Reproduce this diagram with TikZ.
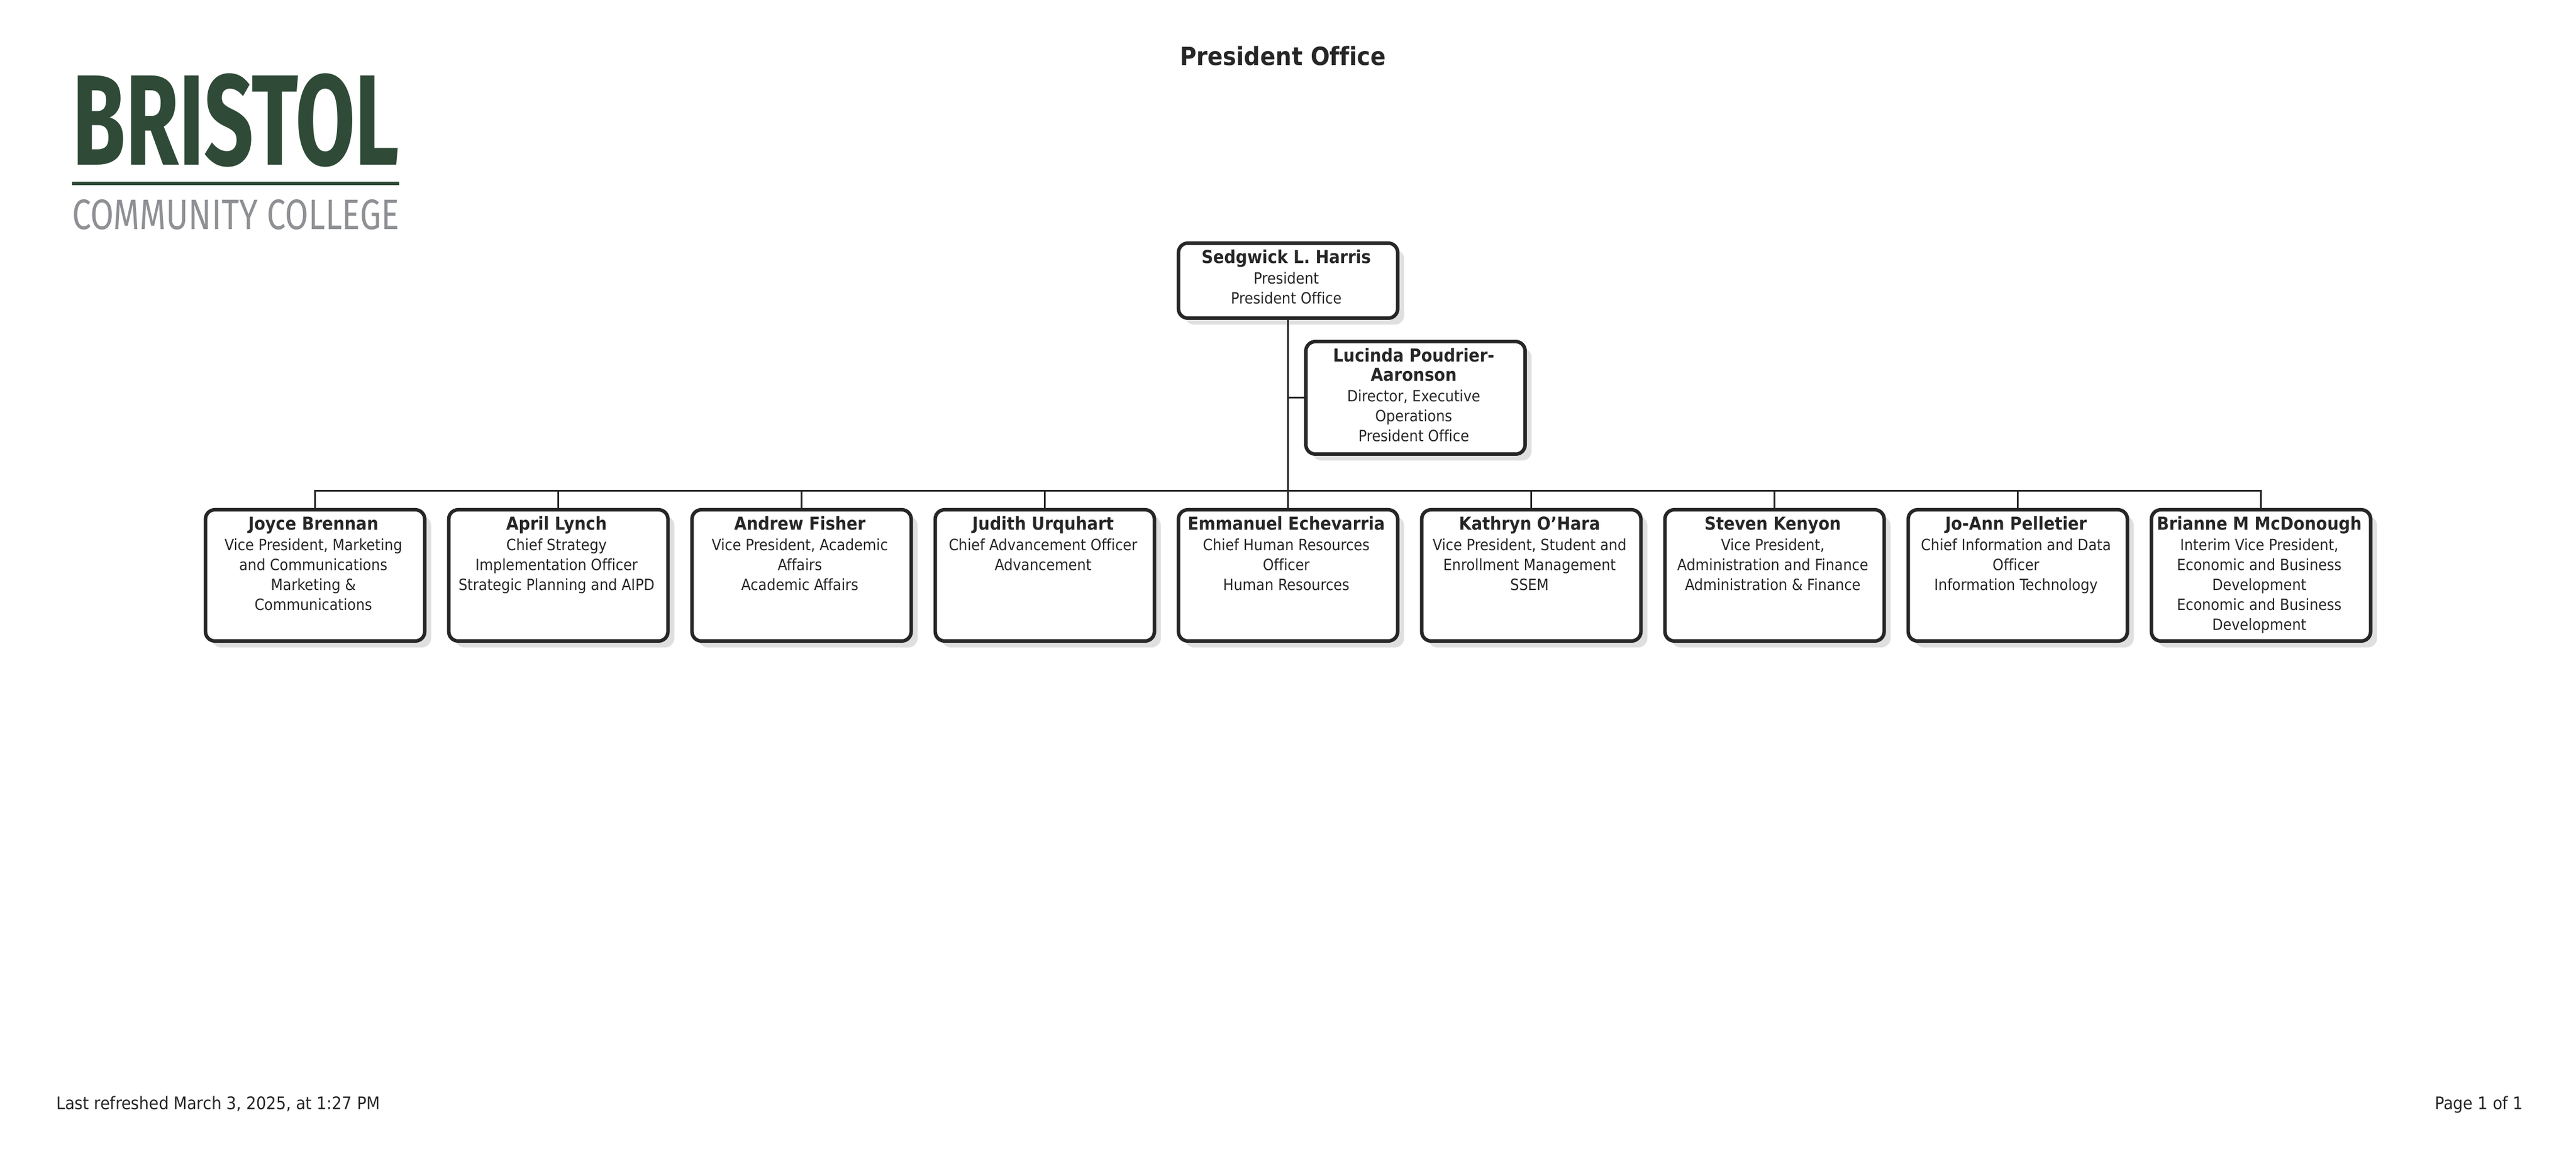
\documentclass[tikz,border=0pt]{standalone}
\usepackage{fontspec}
\usepackage{graphicx}
\setmainfont[Ligatures=NoCommon]{DejaVu Sans Condensed}
\newfontfamily\logofont{Fira Sans}
\usetikzlibrary{shadows}

\definecolor{bristolgreen}{HTML}{2F4A37}
\definecolor{bristolgrey}{HTML}{8E9094}
\definecolor{inkdark}{HTML}{262626}
\definecolor{shadowgrey}{HTML}{DFDFDF}

\newcommand{\cardtext}[3]{\kern-0.03cm\parbox[c][#1][t]{3.7cm}{\centering\fontsize{7.55pt}{0.34cm}\selectfont
{\bfseries\fontsize{8.7pt}{0.33cm}\selectfont\rule{0pt}{0.345cm}#2\par}\vspace{0.01cm}#3}\kern0.03cm}

\tikzset{
  card/.style={draw=inkdark, line width=0.06cm, rounded corners=0.16cm, fill=white, inner sep=0pt,
    minimum width=3.74cm, text=inkdark,
    general shadow={fill=shadowgrey, shadow xshift=0.11cm, shadow yshift=-0.11cm}},
  link/.style={draw=inkdark, line width=0.03cm},
  plain/.style={text=inkdark, inner sep=0pt}
}

\begin{document}
\begin{tikzpicture}
\useasboundingbox (0,0) rectangle (43.95,19.78);
%logo
\node[anchor=base west, inner sep=0pt, text=bristolgreen] (bristol) at (1.225,16.96)
  {\resizebox{5.58cm}{1.56cm}{\logofont\bfseries BRISTOL}};
\fill[bristolgreen] (1.225,16.62) rectangle (6.805,16.68);
\node[anchor=base west, inner sep=0pt, text=bristolgrey] (college) at (1.225,15.86)
  {\resizebox{5.58cm}{0.51cm}{\logofont COMMUNITY COLLEGE}};
%title and footer
\node[plain, font=\fontsize{12.2pt}{14pt}\selectfont\bfseries] (title) at (21.89,18.82) {President Office};
\node[plain, anchor=base west, font=\fontsize{8.45pt}{10pt}\selectfont] (refreshed) at (0.96,0.84) {Last refreshed March 3, 2025, at 1:27 PM};
\node[plain, anchor=base east, font=\fontsize{8.45pt}{10pt}\selectfont] (pagenum) at (43.05,0.84) {Page 1 of 1};
%boxes
\node[card] (harris) at (21.976,14.99) {\cardtext{1.28cm}{Sedgwick L. Harris}{President\\President Office}};
\node[card] (lucinda) at (24.15,12.99) {\cardtext{1.92cm}{Lucinda Poudrier-\\Aaronson}{Director, Executive\\Operations\\President Office}};
\node[card] (joyce) at (5.376,9.96) {\cardtext{2.24cm}{Joyce Brennan}{Vice President, Marketing\\and Communications\\Marketing \&\\Communications}};
\node[card] (april) at (9.526,9.96) {\cardtext{2.24cm}{April Lynch}{Chief Strategy\\Implementation Officer\\Strategic Planning and AIPD}};
\node[card] (andrew) at (13.676,9.96) {\cardtext{2.24cm}{Andrew Fisher}{Vice President, Academic\\Affairs\\Academic Affairs}};
\node[card] (judith) at (17.826,9.96) {\cardtext{2.24cm}{Judith Urquhart}{Chief Advancement Officer\\Advancement}};
\node[card] (emmanuel) at (21.976,9.96) {\cardtext{2.24cm}{Emmanuel Echevarria}{Chief Human Resources\\Officer\\Human Resources}};
\node[card] (kathryn) at (26.126,9.96) {\cardtext{2.24cm}{Kathryn O'Hara}{Vice President, Student and\\Enrollment Management\\SSEM}};
\node[card] (steven) at (30.276,9.96) {\cardtext{2.24cm}{Steven Kenyon}{Vice President,\\Administration and Finance\\Administration \& Finance}};
\node[card] (joann) at (34.426,9.96) {\cardtext{2.24cm}{Jo-Ann Pelletier}{Chief Information and Data\\Officer\\Information Technology}};
\node[card] (brianne) at (38.576,9.96) {\cardtext{2.24cm}{Brianne M McDonough}{Interim Vice President,\\Economic and Business\\Development\\Economic and Business\\Development}};
%connectors
\coordinate (bus) at (21.976,11.40);
\draw[link] (harris.south) -- (emmanuel.north);
\draw[link] (lucinda.west) -- (lucinda.west -| harris.south);
\draw[link] (joyce.north) |- (bus) -| (brianne.north);
\draw[link] (april.north) -- (april.north |- bus);
\draw[link] (andrew.north) -- (andrew.north |- bus);
\draw[link] (judith.north) -- (judith.north |- bus);
\draw[link] (kathryn.north) -- (kathryn.north |- bus);
\draw[link] (steven.north) -- (steven.north |- bus);
\draw[link] (joann.north) -- (joann.north |- bus);
\end{tikzpicture}
\end{document}
